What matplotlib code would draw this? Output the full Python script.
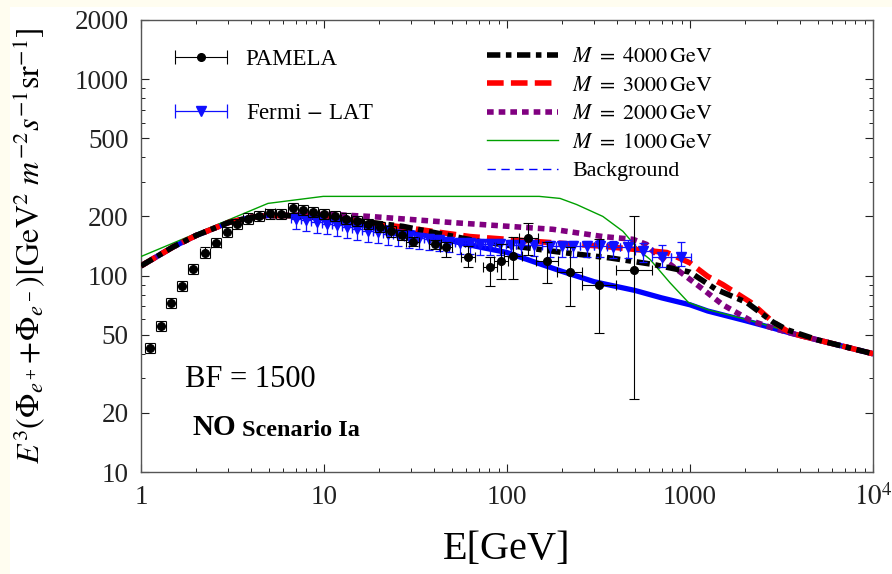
import numpy as np
import matplotlib.pyplot as plt
from matplotlib.lines import Line2D
from matplotlib.patches import Rectangle
from matplotlib.container import ErrorbarContainer
from matplotlib.legend_handler import HandlerErrorbar
from matplotlib.ticker import FixedLocator, FixedFormatter, NullFormatter, LogLocator

plt.rcParams['font.family'] = ['Liberation Serif', 'DejaVu Serif']
plt.rcParams['mathtext.fontset'] = 'stix'

# model curves, E [GeV] vs E^3 flux
bg_E = [1, 1.5, 2, 3, 4, 5, 6.3, 8, 10, 15, 20, 30, 50, 70, 100, 150, 200, 300, 500, 700, 1000, 1250, 2000, 2840, 3530, 5000, 10000]
bg_flux = [112, 140, 160, 186, 198, 202, 202, 200, 196, 186, 178, 166, 150, 140, 131, 115, 105, 93, 84, 77, 71, 66, 59, 54, 51, 47, 40]

m4000_E = [1, 1.5, 2, 3, 4, 5, 6.3, 8, 10, 16, 27, 71, 202, 365, 627, 917, 1000, 1390, 2040, 2840, 3390, 5000, 10000]
m4000_flux = [112, 140, 160, 186, 198, 202, 202, 200, 197, 189, 178, 149, 131, 123, 114, 106, 104, 85, 73, 58, 53, 47, 40]

m3000_E = [1, 1.5, 2, 3, 4, 5, 6.3, 8, 10, 17.8, 62.7, 145, 334, 748, 1000, 1250, 1510, 2150, 2840, 3530, 5000, 10000]
m3000_flux = [112, 140, 160, 186, 198, 202, 202, 200, 197, 186, 158, 149, 141, 131, 116, 99, 90, 73, 58, 51, 47, 40]

m2000_E = [1, 1.5, 2, 3, 4, 5, 6.3, 8, 10.8, 17.8, 50.7, 178, 334, 487, 580, 627, 1180, 1510, 2150, 2840, 3530, 5000, 10000]
m2000_flux = [112, 140, 160, 186, 198, 202, 203, 204, 205, 200, 186, 172, 158, 153, 144, 133, 85, 71, 59, 54, 51, 47, 40]

m1000_E = [1, 4.94, 9.9, 150, 195, 240, 334, 430, 533, 604, 777, 980, 1250, 2000, 3000, 5000, 10000]
m1000_flux = [125, 233, 253, 253, 247, 230, 200, 168, 133, 121, 92, 73, 67, 60, 54, 47, 40]

# PAMELA data with error bounds
pam_E = [1.12, 1.29, 1.46, 1.675, 1.925, 2.24, 2.57, 2.95, 3.35, 3.84, 4.41, 5.07, 5.82, 6.77, 7.7, 8.7,
         10.0, 11.5, 13.2, 15.2, 17.5, 20.2, 23.3, 26.8, 30.6, 40.4, 46.4, 61.2, 80.8, 92.6, 108, 131, 166, 220, 318, 494]
pam_flux = [43, 55.6, 72.8, 89, 108.6, 131, 147, 166, 182, 195, 200, 207, 205, 220, 215, 210,
            205, 200, 195, 189, 182, 176, 168, 160, 149, 144, 139, 125, 110, 118, 126, 156, 118, 104, 90, 107]
pam_lo = [40.5, 52.4, 68.6, 83.9, 102, 123, 139, 157, 172, 184, 189, 195, 193, 207, 203, 198,
          193, 189, 184, 178, 172, 166, 158, 151, 141, 136, 124, 110, 89, 96.5, 96.5, 128, 92, 70, 51, 23.6]
pam_hi = [45.6, 59, 77.2, 94.3, 115, 139, 156, 176, 193, 207, 212, 219, 217, 233, 228, 223,
          217, 212, 207, 200, 193, 187, 178, 170, 157, 152, 148, 141, 125, 144, 158, 186, 149, 139, 153, 202]
pam_dex = [0.027] * 24 + [0.035, 0.035, 0.035, 0.04, 0.04, 0.04, 0.05, 0.05, 0.06, 0.068, 0.093, 0.1]

# Fermi-LAT data
fermi_E = [7.05, 8.0, 9.1, 10.4, 11.8, 13.4, 15.2, 17.3, 19.7, 22.4, 25.5, 29.0, 33.0, 37.5, 42.6, 48.5,
           55.1, 62.6, 71.2, 81.0, 92, 105, 120, 140, 172, 199, 229, 273, 324, 379, 457, 555, 700, 893]
fermi_flux = [195, 192, 188, 184, 180, 176, 172, 169, 166, 163, 160, 157, 155, 153, 151, 149,
              147, 146, 145, 144, 144, 143, 143, 143, 141, 142, 142, 141, 141, 139, 139, 133, 125, 125]
fermi_up = [0.06] * 28 + [0.07, 0.08, 0.09, 0.10, 0.15, 0.18]
fermi_dn = [0.12] * 28 + [0.12, 0.12, 0.12, 0.12, 0.12, 0.11]

fig = plt.figure(figsize=(8.92, 5.74), dpi=100)
fig.patches.append(Rectangle((0, 0.988), 1, 0.012, transform=fig.transFigure,
                             facecolor='#fffdf0', edgecolor='none', zorder=0))
fig.patches.append(Rectangle((0, 0), 0.011, 1, transform=fig.transFigure,
                             facecolor='#fffdf0', edgecolor='none', zorder=0))
ax = fig.add_axes([141 / 892, 102 / 574, 732 / 892, 452 / 574])

ax.plot(bg_E, bg_flux, color='#0000ff', lw=3.8, zorder=2)
ax.plot(m1000_E, m1000_flux, color='#00a000', lw=1.0, zorder=3)
ax.plot(m2000_E, m2000_flux, color='#800080', lw=4, dashes=(1.2, 0.9), zorder=3)
ax.plot(m3000_E, m3000_flux, color='#ff0000', lw=4, dashes=(3.0, 1.3), zorder=3)
ax.plot(m4000_E, m4000_flux, color='black', lw=4, dashes=(2.4, 1.0, 1.0, 1.0), zorder=4)

fE = np.array(fermi_E)
ff = np.array(fermi_flux)
edges = np.sqrt(fE[:-1] * fE[1:])
f_lo = np.concatenate([[fE[0] ** 2 / edges[0]], edges])
f_hi = np.concatenate([edges, [fE[-1] ** 2 / edges[-1]]])
ax.errorbar(fE, ff, xerr=[fE - f_lo, f_hi - fE],
            yerr=[ff * np.array(fermi_dn), ff * np.array(fermi_up)],
            fmt='v', color='#1010ff', ms=6.5, elinewidth=0.9, capsize=3, capthick=0.9, zorder=5)

pE = np.array(pam_E)
pf = np.array(pam_flux)
pdx = 10 ** np.array(pam_dex)
ax.errorbar(pE, pf, xerr=[pE - pE / pdx, pE * pdx - pE],
            yerr=[pf - np.array(pam_lo), np.array(pam_hi) - pf],
            fmt='o', color='black', ms=5.5, elinewidth=0.8, capsize=3.6, capthick=0.8, zorder=6)

ax.set_xscale('log')
ax.set_yscale('log')
ax.set_xlim(1, 1e4)
ax.set_ylim(10, 2000)

yt = [10, 20, 50, 100, 200, 500, 1000, 2000]
ax.yaxis.set_major_locator(FixedLocator(yt))
ax.yaxis.set_major_formatter(FixedFormatter([str(v) for v in yt]))
ax.yaxis.set_minor_locator(LogLocator(subs=(3, 4, 6, 7, 8, 9)))
ax.yaxis.set_minor_formatter(NullFormatter())
xt = [1, 10, 100, 1000, 10000]
ax.xaxis.set_major_locator(FixedLocator(xt))
ax.xaxis.set_major_formatter(FixedFormatter(['1', '10', '100', '1000', r'$10^4$']))
ax.xaxis.set_minor_locator(LogLocator(subs=np.arange(2, 10)))
ax.xaxis.set_minor_formatter(NullFormatter())
ax.tick_params(which='both', direction='in', top=True, right=True, labelsize=19.5, colors='#222222')
ax.tick_params(which='major', length=6, width=0.8)
ax.tick_params(which='minor', length=3, width=0.7)
ax.tick_params(axis='y', pad=9)
ax.tick_params(axis='x', pad=9)
for s in ax.spines.values():
    s.set_color('#555555')
    s.set_linewidth(1.0)

ax.set_xlabel('E[GeV]', fontsize=29)
ax.xaxis.set_label_coords(0.5, -0.13)
ax.set_ylabel(r'$E^3(\Phi_{e^+}\!+\!\Phi_{e^-})[\mathrm{GeV}^2\ m^{-2}s^{-1}\mathrm{sr}^{-1}]$', fontsize=23)
ax.yaxis.set_label_coords(-0.128, 0.5)

ax.text(0.06, 0.188, 'BF = 1500', transform=ax.transAxes, fontsize=22)
no = ax.text(0.071, 0.082, 'NO', transform=ax.transAxes, fontsize=21, fontweight='bold')
ax.annotate('Scenario Ia', xy=(1, 0), xycoords=no, xytext=(4, 0), textcoords='offset points',
            fontsize=17.5, fontweight='bold', va='bottom')

# legends
h_pam = ax.errorbar([np.nan], [np.nan], xerr=[1], fmt='o', color='black', ms=5.5,
                    elinewidth=0.8, capsize=5, capthick=0.8)
h_fermi = ax.errorbar([np.nan], [np.nan], xerr=[1], fmt='v', color='#1010ff', ms=6.5,
                      elinewidth=0.9, capsize=5, capthick=0.9)
leg1 = ax.legend([h_pam, h_fermi], ['PAMELA', r'Fermi$\,-\,$LAT'], loc='upper left',
                 bbox_to_anchor=(0.046, 0.936), frameon=False, fontsize=16.5, numpoints=1,
                 handlelength=2.3, handletextpad=0.8, labelspacing=1.45, borderpad=0, borderaxespad=0,
                 handler_map={ErrorbarContainer: HandlerErrorbar(xerr_size=1.15)})
ax.add_artist(leg1)

model_handles = [
    Line2D([], [], color='black', lw=4, dashes=(2.4, 1.0, 1.0, 1.0)),
    Line2D([], [], color='#ff0000', lw=4, dashes=(3.0, 1.3)),
    Line2D([], [], color='#800080', lw=4, dashes=(1.2, 0.9)),
    Line2D([], [], color='#00a000', lw=1.0),
    Line2D([], [], color='#0000ff', lw=1.0, dashes=(6, 4)),
]
model_labels = [r'$M\ =\ 4000\,\mathrm{GeV}$', r'$M\ =\ 3000\,\mathrm{GeV}$', r'$M\ =\ 2000\,\mathrm{GeV}$',
                r'$M\ =\ 1000\,\mathrm{GeV}$', 'Background']
ax.legend(model_handles, model_labels, loc='upper left', bbox_to_anchor=(0.473, 0.94), frameon=False,
          fontsize=15.8, handlelength=3.24, handletextpad=0.64, labelspacing=0.37, borderpad=0, borderaxespad=0)

fig.savefig('out.png', dpi=100)
